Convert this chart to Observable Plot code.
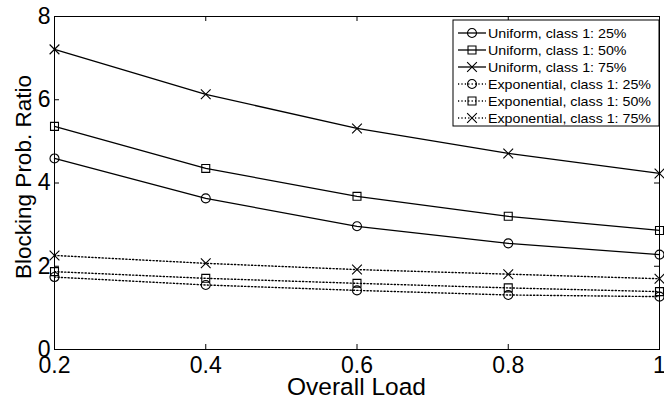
<!DOCTYPE html>
<html><head><meta charset="utf-8">
<script src="https://cdn.jsdelivr.net/npm/d3@7"></script>
<script src="https://cdn.jsdelivr.net/npm/@observablehq/plot@0.6"></script>
<style>
body{margin:0;background:#fff}
#chart svg{font-family:"Liberation Sans",Arial,Helvetica,sans-serif;background:#fff}
</style>
</head><body><div id="chart"></div>
<script>
// ---- data ----
const loads = [0.2, 0.4, 0.6, 0.8, 1.0];
const uniform25 = [4.59, 3.63, 2.96, 2.55, 2.28];
const uniform50 = [5.36, 4.35, 3.68, 3.20, 2.86];
const uniform75 = [7.21, 6.13, 5.31, 4.71, 4.23];
const expo25 = [1.74, 1.55, 1.42, 1.31, 1.27];
const expo50 = [1.87, 1.71, 1.59, 1.48, 1.39];
const expo75 = [2.26, 2.07, 1.92, 1.81, 1.70];
const seriesNames = ["Uniform, class 1: 25%", "Uniform, class 1: 50%", "Uniform, class 1: 75%",
  "Exponential, class 1: 25%", "Exponential, class 1: 50%", "Exponential, class 1: 75%"];
const seriesKinds = ["Uniform", "Uniform", "Uniform", "Exponential", "Exponential", "Exponential"];
const seriesShares = ["25%", "50%", "75%", "25%", "50%", "75%"];
const seriesValues = [uniform25, uniform50, uniform75, expo25, expo50, expo75];
const xTicks = [0.2, 0.4, 0.6, 0.8, 1];
const yTicks = [0, 2, 4, 6, 8];
const xLabel = "Overall Load";
const yLabel = "Blocking Prob. Ratio";

// ---- layout ----
const W = 664, H = 401, ML = 54, MR = 5, MT = 16, MB = 52;
const PW = W - ML - MR, PH = H - MT - MB;
const TICK = 5;
const FONT = '"Liberation Sans",Arial,Helvetica,sans-serif';

const rows = [];
seriesNames.forEach((name, s) => loads.forEach((x, i) =>
  rows.push({x, y: seriesValues[s][i], name, kind: seriesKinds[s], share: seriesShares[s]})));
const solid = rows.filter(d => d.kind === "Uniform");
const dotted = rows.filter(d => d.kind === "Exponential");
const DASH = "1.2,2.2";

const chart = Plot.plot({
  width: W, height: H,
  marginLeft: ML, marginRight: MR, marginTop: MT, marginBottom: MB,
  style: {fontFamily: FONT, fontSize: "23px", color: "black", background: "white", overflow: "visible"},
  x: {domain: [0.2, 1]},
  y: {domain: [0, 8]},
  symbol: {domain: ["25%", "50%", "75%"], range: ["circle", "square", "times"]},
  marks: [
    Plot.frame({stroke: "black", strokeWidth: 1}),
    Plot.ruleX(xTicks, {insetTop: PH - TICK, stroke: "black", strokeWidth: 1}),
    Plot.ruleX(xTicks, {insetBottom: PH - TICK, stroke: "black", strokeWidth: 1}),
    Plot.ruleY(yTicks, {insetRight: PW - TICK, stroke: "black", strokeWidth: 1}),
    Plot.ruleY(yTicks, {insetLeft: PW - TICK, stroke: "black", strokeWidth: 1}),
    Plot.axisX(xTicks, {tickSize: 0, tickPadding: 7, tickFormat: d => String(d), label: null, fontSize: 23}),
    Plot.axisY(yTicks, {tickSize: 0, tickPadding: 4, tickFormat: d => String(d), label: null, fontSize: 23}),
    Plot.line(solid, {x: "x", y: "y", z: "name", stroke: "black", strokeWidth: 1.3}),
    Plot.line(dotted, {x: "x", y: "y", z: "name", stroke: "black", strokeWidth: 1.4, strokeDasharray: DASH}),
    Plot.dot(rows, {x: "x", y: "y", symbol: "share", r: 4.5, stroke: "black", fill: "none", strokeWidth: 1.1})
  ]
});
document.getElementById("chart").appendChild(chart);

// ---- axis titles and legend ----
const svg = d3.select(chart);
svg.append("text")
  .attr("x", ML + PW / 2).attr("y", 395)
  .attr("text-anchor", "middle").attr("font-size", 24.5).attr("font-family", FONT).attr("fill", "black")
  .text(xLabel);
svg.append("text")
  .attr("transform", "translate(31,177) rotate(-90)")
  .attr("text-anchor", "middle").attr("font-size", 22.5).attr("font-family", FONT).attr("fill", "black")
  .text(yLabel);

const lg = svg.append("g").attr("text-anchor", "start");
const LX = 453, LY = 20, LW = W - MR - LX, LH = 106, RS = 17;
lg.append("rect").attr("x", LX).attr("y", LY).attr("width", LW).attr("height", LH)
  .attr("fill", "white").attr("stroke", "black").attr("stroke-width", 1);
const symMap = {"25%": d3.symbolCircle, "50%": d3.symbolSquare, "75%": d3.symbolTimes};
seriesNames.forEach((name, i) => {
  const cy = LY + 13 + i * RS;
  const isDot = seriesKinds[i] === "Exponential";
  lg.append("line").attr("x1", LX + 5).attr("x2", LX + 33).attr("y1", cy).attr("y2", cy)
    .attr("stroke", "black").attr("stroke-width", 1.3)
    .attr("stroke-dasharray", isDot ? DASH : null);
  lg.append("path").attr("d", d3.symbol(symMap[seriesShares[i]], 4.5 * 4.5 * Math.PI)())
    .attr("transform", `translate(${LX + 19},${cy})`)
    .attr("fill", "none").attr("stroke", "black").attr("stroke-width", 1.1);
  lg.append("text").attr("transform", `translate(${LX + 35},${cy + 4.5}) scale(1.14,1)`)
    .attr("text-anchor", "start")
    .attr("font-size", 12.5).attr("font-family", FONT).attr("fill", "black")
    .text(name);
});
</script>
</body></html>
